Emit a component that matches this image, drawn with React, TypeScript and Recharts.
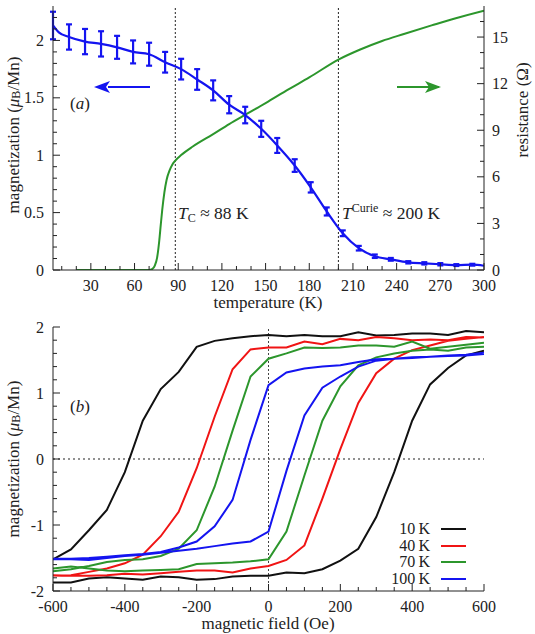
import { ComposedChart, Line, XAxis, YAxis, ErrorBar, ReferenceLine, Legend } from "recharts";

const FONT = "'Liberation Serif', 'Times New Roman', Times, 'DejaVu Serif', 'Noto Serif', serif";
const BLUE = "#1414f0";
const GREEN = "#2c962c";
const RED = "#f01414";
const BLACK = "#111111";
const AXIS = "#222222";

// (a) magnetization vs temperature, with error bars
const magTemp = [4, 8, 15, 26, 37, 48, 59, 70, 81, 92, 103, 114, 125, 136, 147, 158, 170, 181, 192, 203, 214, 225, 236, 248, 259, 270, 281, 292, 300];
const magValue = [2.13, 2.07, 2.03, 1.99, 1.97, 1.94, 1.9, 1.88, 1.81, 1.75, 1.66, 1.565, 1.44, 1.35, 1.23, 1.085, 0.91, 0.72, 0.51, 0.32, 0.19, 0.12, 0.093, 0.067, 0.058, 0.05, 0.043, 0.046, 0.037];
const magError = [0.12, null, 0.11, 0.11, 0.11, 0.1, 0.1, 0.1, 0.09, 0.09, 0.09, 0.087, 0.075, 0.072, 0.07, 0.065, 0.055, 0.045, 0.035, 0.025, 0.02, 0.015, 0.012, 0.01, 0.01, 0.01, 0.008, 0.008, null];

// (a) resistance vs temperature
const resTemp = [20, 30, 40, 50, 60, 70, 72, 74, 75.5, 77, 78, 79, 80.5, 82, 84, 86, 88, 92, 100, 114, 125, 137, 150, 166, 180, 200, 215, 230, 245, 264, 280, 300];
const resValue = [0, 0, 0, 0, 0, 0, 0.05, 0.3, 0.8, 1.9, 2.9, 3.85, 5.0, 5.8, 6.4, 6.8, 7.05, 7.4, 7.95, 8.75, 9.4, 10.05, 10.75, 11.65, 12.4, 13.55, 14.2, 14.75, 15.2, 15.75, 16.2, 16.7];

const tempTicks = [10, 20, 30, 40, 50, 60, 70, 80, 90, 100, 110, 120, 130, 140, 150, 160, 170, 180, 190, 200, 210, 220, 230, 240, 250, 260, 270, 280, 290, 300];
const tempMajor = [30, 60, 90, 120, 150, 180, 210, 240, 270, 300];
const magTicks = [0, 0.1, 0.2, 0.3, 0.4, 0.5, 0.6, 0.7, 0.8, 0.9, 1, 1.1, 1.2, 1.3, 1.4, 1.5, 1.6, 1.7, 1.8, 1.9, 2, 2.1, 2.2];
const magMajor = [0, 0.5, 1, 1.5, 2];
const resTicks = [0, 1, 2, 3, 4, 5, 6, 7, 8, 9, 10, 11, 12, 13, 14, 15, 16];
const resMajor = [0, 3, 6, 9, 12, 15];

// (b) hysteresis loops
const fieldDown = [600, 550, 500, 450, 400, 350, 300, 250, 200, 150, 100, 50, 0, -50, -100, -150, -200, -250, -300, -350, -400, -450, -500, -550, -600];
const fieldUp = [-600, -550, -500, -450, -400, -350, -300, -250, -200, -150, -100, -50, 0, 50, 100, 150, 200, 250, 300, 350, 400, 450, 500, 550, 600];

const m10Down = [1.92, 1.94, 1.88, 1.9, 1.9, 1.88, 1.87, 1.92, 1.86, 1.86, 1.88, 1.86, 1.88, 1.86, 1.83, 1.79, 1.7, 1.32, 1.06, 0.58, -0.2, -0.77, -1.08, -1.37, -1.52];
const m10Up = [-1.87, -1.87, -1.81, -1.79, -1.81, -1.83, -1.78, -1.79, -1.83, -1.82, -1.78, -1.77, -1.77, -1.72, -1.73, -1.67, -1.54, -1.36, -0.88, -0.2, 0.58, 1.13, 1.38, 1.57, 1.64];
const m40Down = [1.84, 1.85, 1.8, 1.81, 1.8, 1.83, 1.85, 1.8, 1.82, 1.74, 1.78, 1.69, 1.69, 1.66, 1.36, 0.64, -0.14, -0.8, -1.17, -1.45, -1.58, -1.66, -1.71, -1.76, -1.77];
const m40Up = [-1.76, -1.77, -1.77, -1.76, -1.74, -1.75, -1.73, -1.71, -1.69, -1.69, -1.72, -1.66, -1.62, -1.53, -1.31, -0.6, 0.15, 0.85, 1.3, 1.52, 1.65, 1.72, 1.79, 1.82, 1.85];
const m70Down = [1.76, 1.73, 1.7, 1.67, 1.78, 1.7, 1.72, 1.72, 1.69, 1.68, 1.69, 1.6, 1.52, 1.25, 0.43, -0.42, -1.08, -1.36, -1.47, -1.52, -1.53, -1.56, -1.62, -1.67, -1.7];
const m70Up = [-1.66, -1.63, -1.66, -1.69, -1.7, -1.69, -1.68, -1.67, -1.59, -1.58, -1.57, -1.55, -1.52, -1.1, -0.25, 0.58, 1.1, 1.42, 1.54, 1.6, 1.64, 1.66, 1.64, 1.69, 1.7];
const m100Down = [1.61, 1.58, 1.57, 1.55, 1.53, 1.52, 1.51, 1.47, 1.42, 1.4, 1.37, 1.31, 1.12, 0.29, -0.62, -1.02, -1.25, -1.34, -1.41, -1.44, -1.46, -1.48, -1.5, -1.51, -1.51];
const m100Up = [-1.52, -1.52, -1.53, -1.5, -1.47, -1.45, -1.42, -1.39, -1.36, -1.32, -1.28, -1.25, -1.1, -0.18, 0.66, 1.08, 1.25, 1.4, 1.49, 1.52, 1.54, 1.55, 1.56, 1.57, 1.59];

const fieldTicks = [-600, -550, -500, -450, -400, -350, -300, -250, -200, -150, -100, -50, 0, 50, 100, 150, 200, 250, 300, 350, 400, 450, 500, 550, 600];
const fieldMajor = [-600, -400, -200, 0, 200, 400, 600];
const loopTicks = [-2, -1.8, -1.6, -1.4, -1.2, -1, -0.8, -0.6, -0.4, -0.2, 0, 0.2, 0.4, 0.6, 0.8, 1, 1.2, 1.4, 1.6, 1.8, 2];
const loopMajor = [-2, -1, 0, 1, 2];

const magData = magTemp.map((t, i) => ({ t, m: magValue[i], err: magError[i] ?? undefined }));
const resData = resTemp.map((t, i) => ({ t, r: resValue[i] }));

const branch = (h: number[], m: number[]) => h.map((v, i) => ({ h: v, m: m[i] as number | null }));
const loop = (up: number[], down: number[]) => [...branch(fieldUp, up), { h: 600, m: null }, ...branch(fieldDown, down)];

const loops = [
  { name: "10\u2009K", color: BLACK, data: loop(m10Up, m10Down) },
  { name: "40\u2009K", color: RED, data: loop(m40Up, m40Down) },
  { name: "70\u2009K", color: GREEN, data: loop(m70Up, m70Down) },
  { name: "100\u2009K", color: BLUE, data: loop(m100Up, m100Down) },
];

type Side = "bottom" | "top" | "left" | "right";

const tickStyle = { fontFamily: FONT, fontSize: 16, fill: "#222" };
const labelStyle = { fontFamily: FONT, fontSize: 17, fill: "#222" };

const makeTick = (side: Side, major: number[], showLabel: boolean) => (props: any) => {
  const { x, y, payload } = props;
  const v = payload.value;
  const isMajor = major.some((m) => Math.abs(m - v) < 1e-6);
  const len = isMajor ? 7 : 4;
  const label = showLabel && isMajor;
  if (side === "bottom")
    return (
      <g>
        <line x1={x} y1={y} x2={x} y2={y - len} stroke={AXIS} />
        {label && <text x={x} y={y + 15} textAnchor="middle" dominantBaseline="central" style={tickStyle}>{v}</text>}
      </g>
    );
  if (side === "top")
    return (
      <g>
        <line x1={x} y1={y} x2={x} y2={y + len} stroke={AXIS} />
      </g>
    );
  if (side === "left")
    return (
      <g>
        <line x1={x} y1={y} x2={x + len} y2={y} stroke={AXIS} />
        {label && <text x={x - 9} y={y} textAnchor="end" dominantBaseline="central" style={tickStyle}>{v}</text>}
      </g>
    );
  return (
    <g>
      <line x1={x} y1={y} x2={x - len} y2={y} stroke={AXIS} />
      {label && <text x={x + 8} y={y} textAnchor="start" dominantBaseline="central" style={tickStyle}>{v}</text>}
    </g>
  );
};

const LoopLegend = ({ payload }: any) => {
  const items = loops.map((s) => (payload || []).find((p: any) => p.value === s.name)).filter(Boolean);
  return (
    <div style={{ fontFamily: FONT, fontSize: 16, color: "#222" }}>
      {items.map((p: any) => (
        <div key={p.value} style={{ display: "flex", alignItems: "center", justifyContent: "flex-end", height: 16.5 }}>
          <span>{p.value}</span>
          <span style={{ display: "inline-block", width: 25, height: 2, background: p.color, marginLeft: 11 }} />
        </div>
      ))}
    </div>
  );
};

const axisLine = { stroke: AXIS, strokeWidth: 1 };

const TopPanel = () => (
  <ComposedChart width={535} height={310} margin={{ top: 6, right: 6, bottom: 10, left: 8 }}>
    <XAxis xAxisId="b" type="number" dataKey="t" domain={[4, 300]} ticks={tempTicks} interval={0} allowDataOverflow
      tickSize={0} tickMargin={0} tickLine={false} axisLine={axisLine} height={30} tick={makeTick("bottom", tempMajor, true)} />
    <XAxis xAxisId="tp" orientation="top" type="number" dataKey="t" domain={[4, 300]} ticks={tempTicks} interval={0} allowDataOverflow
      tickSize={0} tickMargin={0} tickLine={false} axisLine={axisLine} height={0} tick={makeTick("top", tempMajor, false)} />
    <YAxis yAxisId="m" type="number" domain={[0, 2.3]} ticks={magTicks} interval={0} allowDataOverflow
      tickSize={0} tickMargin={0} tickLine={false} axisLine={axisLine} width={45} tick={makeTick("left", magMajor, true)} />
    <YAxis yAxisId="r" orientation="right" type="number" domain={[0, 17]} ticks={resTicks} interval={0} allowDataOverflow
      tickSize={0} tickMargin={0} tickLine={false} axisLine={axisLine} width={45} tick={makeTick("right", resMajor, true)} />
    <ReferenceLine xAxisId="b" yAxisId="m" x={88} stroke="#222" strokeDasharray="2 2" />
    <ReferenceLine xAxisId="b" yAxisId="m" x={200} stroke="#222" strokeDasharray="2 2" />
    <Line xAxisId="b" yAxisId="r" data={resData} dataKey="r" type="monotone" stroke={GREEN} strokeWidth={2}
      dot={false} isAnimationActive={false} />
    <Line xAxisId="b" yAxisId="m" data={magData} dataKey="m" type="monotone" stroke={BLUE} strokeWidth={2.2}
      dot={false} isAnimationActive={false}>
      <ErrorBar dataKey="err" direction="y" width={3} stroke={BLUE} strokeWidth={2.2} />
    </Line>
  </ComposedChart>
);

const BottomPanel = () => (
  <ComposedChart width={535} height={324} margin={{ top: 17, right: 51, bottom: 13, left: 8 }}>
    <XAxis xAxisId="b" type="number" dataKey="h" domain={[-600, 600]} ticks={fieldTicks} interval={0} allowDataOverflow
      tickSize={0} tickMargin={0} tickLine={false} axisLine={axisLine} height={30} tick={makeTick("bottom", fieldMajor, true)} />
    <XAxis xAxisId="tp" orientation="top" type="number" dataKey="h" domain={[-600, 600]} ticks={fieldTicks} interval={0} allowDataOverflow
      tickSize={0} tickMargin={0} tickLine={false} axisLine={axisLine} height={0} tick={makeTick("top", fieldMajor, false)} />
    <YAxis yAxisId="l" type="number" domain={[-2, 2]} ticks={loopTicks} interval={0} allowDataOverflow
      tickSize={0} tickMargin={0} tickLine={false} axisLine={axisLine} width={45} tick={makeTick("left", loopMajor, true)} />
    <YAxis yAxisId="rr" orientation="right" type="number" domain={[-2, 2]} ticks={loopTicks} interval={0} allowDataOverflow
      tickSize={0} tickMargin={0} tickLine={false} axisLine={axisLine} width={0} tick={makeTick("right", loopMajor, false)} />
    <ReferenceLine xAxisId="b" yAxisId="l" y={0} stroke="#222" strokeDasharray="2 3" strokeWidth={1.2} />
    <ReferenceLine xAxisId="b" yAxisId="l" x={0} stroke="#444" strokeDasharray="2 2" />
    {loops.map((s) => (
      <Line key={s.name} name={s.name} xAxisId="b" yAxisId="l" data={s.data} dataKey="m" type="linear"
        stroke={s.color} strokeWidth={2} dot={false} isAnimationActive={false} />
    ))}
    <Legend layout="horizontal" verticalAlign="middle" align="center" content={<LoopLegend />}
      wrapperStyle={{ left: 360, top: 211, width: 106 }} />
  </ComposedChart>
);

const Annotations = () => (
  <svg width={535} height={634} style={{ position: "absolute", left: 0, top: 0, pointerEvents: "none" }}>
    <defs>
      <marker id="hb" markerWidth="8" markerHeight="6" refX="1" refY="3" orient="auto-start-reverse">
        <path d="M0,0 L8,3 L0,6 L2,3 Z" fill={BLUE} />
      </marker>
      <marker id="hg" markerWidth="8" markerHeight="6" refX="7" refY="3" orient="auto">
        <path d="M0,0 L8,3 L0,6 L2,3 Z" fill={GREEN} />
      </marker>
    </defs>
    <line x1={150} y1={87} x2={108} y2={87} stroke={BLUE} strokeWidth={2} markerEnd="url(#hb)" />
    <line x1={397} y1={87} x2={439} y2={87} stroke={GREEN} strokeWidth={2} markerEnd="url(#hg)" />
    <text x={70} y={109} style={labelStyle}>(<tspan fontStyle="italic">a</tspan>)</text>
    <text x={70} y={412} style={labelStyle}>(<tspan fontStyle="italic">b</tspan>)</text>
    <text x={178} y={219} style={{ ...labelStyle, fontSize: 17.5 }}>
      <tspan fontStyle="italic">T</tspan><tspan dy={3} fontSize={12}>C</tspan><tspan dy={-3}> ≈ 88 K</tspan>
    </text>
    <text x={342} y={219} style={{ ...labelStyle, fontSize: 17.5 }}>
      <tspan fontStyle="italic">T</tspan><tspan dy={-7} fontSize={12}>Curie</tspan><tspan dy={7}> ≈ 200 K</tspan>
    </text>
    <text x={268} y={302} textAnchor="middle" dominantBaseline="central" style={labelStyle}>temperature (K)</text>
    <text x={268} y={623} textAnchor="middle" dominantBaseline="central" style={labelStyle}>magnetic field (Oe)</text>
    <text transform="translate(13,135) rotate(-90)" textAnchor="middle" dominantBaseline="central" style={labelStyle}>
      magnetization (<tspan fontStyle="italic">μ</tspan><tspan dy={3} fontSize={12}>B</tspan><tspan dy={-3}>/Mn)</tspan>
    </text>
    <text transform="translate(13,459) rotate(-90)" textAnchor="middle" dominantBaseline="central" style={labelStyle}>
      magnetization (<tspan fontStyle="italic">μ</tspan><tspan dy={3} fontSize={12}>B</tspan><tspan dy={-3}>/Mn)</tspan>
    </text>
    <text transform="translate(522,110) rotate(-90)" textAnchor="middle" dominantBaseline="central" style={labelStyle}>
      resistance (Ω)
    </text>
  </svg>
);

export default function App() {
  return (
    <div style={{ position: "absolute", left: 0, top: 0, width: 535, height: 634, background: "#fff", fontFamily: FONT }}>
      <div style={{ position: "absolute", left: 0, top: 0 }}>
        <TopPanel />
      </div>
      <div style={{ position: "absolute", left: 0, top: 310 }}>
        <BottomPanel />
      </div>
      <Annotations />
    </div>
  );
}
